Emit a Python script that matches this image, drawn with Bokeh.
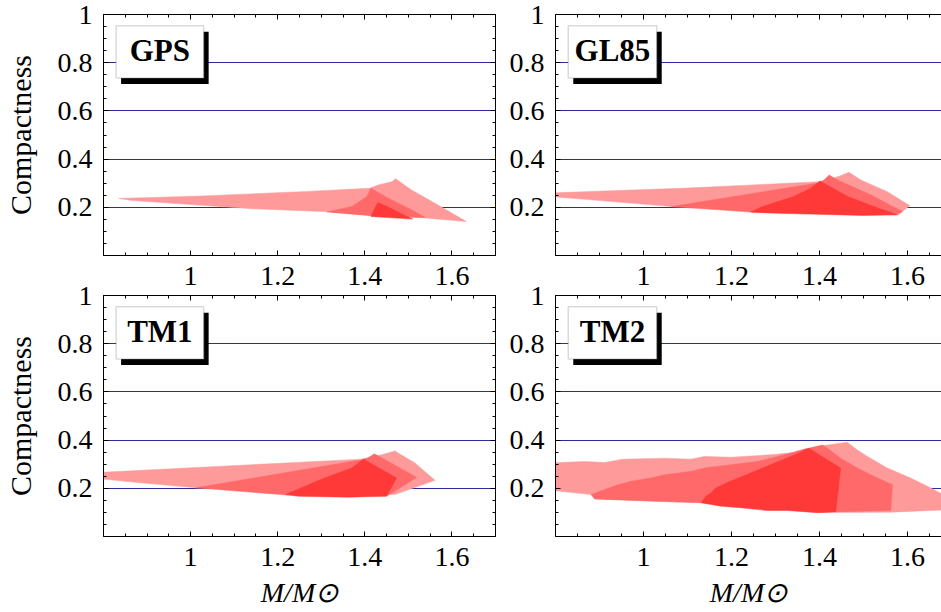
from bokeh.plotting import figure
from bokeh.models import (LinearAxis, FixedTicker, BoxAnnotation, Label, Range1d, Grid,
                          CustomLabelingPolicy)
from bokeh.layouts import column, row
from bokeh.embed import file_html
from bokeh.resources import INLINE

# ---------------- data ----------------
X_MAJOR = [1.0, 1.2, 1.4, 1.6]
X_MINOR = [0.8, 0.85, 0.9, 0.95, 1.0, 1.05, 1.1, 1.15, 1.2, 1.25, 1.3, 1.35,
           1.4, 1.45, 1.5, 1.55, 1.6, 1.65, 1.7]
Y_MAJOR = [0.2, 0.4, 0.6, 0.8, 1.0]
Y_MINOR = [0.0, 0.05, 0.1, 0.15, 0.2, 0.25, 0.3, 0.35, 0.4, 0.45, 0.5, 0.55,
           0.6, 0.65, 0.7, 0.75, 0.8, 0.85, 0.9, 0.95, 1.0]
GRID_LEVELS = [0.2, 0.4, 0.6, 0.8]
PANEL_NAMES = ["GPS", "GL85", "TM1", "TM2"]
Y_TITLE = "Compactness"
X_TITLE = "M/M\u2299"

gps_light_x = [0.835, 1.027, 1.256, 1.411, 1.431, 1.462, 1.471, 1.507, 1.561, 1.633, 1.537, 1.416, 1.313, 1.142, 0.867]
gps_light_y = [0.237, 0.247, 0.265, 0.279, 0.293, 0.306, 0.318, 0.272, 0.217, 0.141, 0.156, 0.166, 0.182, 0.194, 0.228]
gps_mid_x = [1.313, 1.370, 1.405, 1.414, 1.454, 1.507, 1.538, 1.416]
gps_mid_y = [0.181, 0.203, 0.245, 0.279, 0.238, 0.190, 0.158, 0.165]
gps_dark_x = [1.430, 1.421, 1.414, 1.510, 1.485, 1.454]
gps_dark_y = [0.220, 0.190, 0.162, 0.151, 0.172, 0.201]

gl85_light_x = [0.78, 1.100, 1.400, 1.429, 1.448, 1.467, 1.494, 1.554, 1.605, 1.580, 1.063, 0.881, 0.78]
gl85_light_y = [0.259, 0.280, 0.306, 0.320, 0.331, 0.345, 0.313, 0.265, 0.207, 0.169, 0.203, 0.231, 0.246]
gl85_mid_x = [1.063, 1.398, 1.410, 1.422, 1.441, 1.516, 1.588, 1.573, 1.471, 1.244]
gl85_mid_y = [0.203, 0.301, 0.313, 0.334, 0.313, 0.252, 0.183, 0.169, 0.171, 0.180]
gl85_dark_x = [1.244, 1.266, 1.342, 1.380, 1.401, 1.464, 1.524, 1.577, 1.500, 1.290]
gl85_dark_y = [0.180, 0.200, 0.245, 0.279, 0.309, 0.245, 0.203, 0.169, 0.166, 0.176]

tm1_light_x = [0.78, 1.393, 1.439, 1.469, 1.515, 1.561, 1.469, 1.250, 1.012, 0.867, 0.78]
tm1_light_y = [0.265, 0.321, 0.339, 0.355, 0.305, 0.233, 0.174, 0.185, 0.202, 0.226, 0.242]
tm1_mid_x = [1.012, 1.393, 1.407, 1.422, 1.470, 1.519, 1.450, 1.222]
tm1_mid_y = [0.202, 0.318, 0.326, 0.343, 0.295, 0.245, 0.167, 0.172]
tm1_dark_x = [1.218, 1.302, 1.370, 1.397, 1.473, 1.450, 1.363, 1.248]
tm1_dark_y = [0.174, 0.239, 0.284, 0.321, 0.243, 0.168, 0.163, 0.167]

tm2_light_x = [0.78, 0.866, 0.912, 0.953, 1.048, 1.108, 1.138, 1.199, 1.290, 1.358, 1.380, 1.418, 1.463,
               1.486, 1.509, 1.554, 1.607, 1.652, 1.695, 1.695, 1.668, 1.562, 1.403, 1.131, 0.889, 0.881, 0.78]
tm2_light_y = [0.305, 0.311, 0.307, 0.321, 0.325, 0.321, 0.332, 0.329, 0.339, 0.352, 0.366, 0.380, 0.391,
               0.359, 0.332, 0.284, 0.243, 0.202, 0.160, 0.112, 0.109, 0.101, 0.100, 0.141, 0.156, 0.174, 0.194]
tm2_mid_x = [0.889, 0.881, 0.942, 0.972, 1.017, 1.048, 1.108, 1.138, 1.199, 1.259, 1.290, 1.335, 1.358,
             1.407, 1.418, 1.448, 1.486, 1.524, 1.566, 1.562, 1.437, 1.131, 1.010]
tm2_mid_y = [0.156, 0.174, 0.215, 0.229, 0.243, 0.256, 0.270, 0.284, 0.298, 0.311, 0.325, 0.346, 0.359,
             0.380, 0.366, 0.325, 0.284, 0.249, 0.215, 0.108, 0.103, 0.140, 0.147]
tm2_dark_x = [1.131, 1.142, 1.153, 1.165, 1.176, 1.188, 1.358, 1.365, 1.371, 1.376, 1.381, 1.448, 1.437,
              1.396, 1.327, 1.282, 1.222, 1.176]
tm2_dark_y = [0.140, 0.167, 0.181, 0.202, 0.212, 0.222, 0.350, 0.359, 0.363, 0.366, 0.360, 0.284, 0.103,
              0.099, 0.108, 0.108, 0.119, 0.126]

POLYS = {
    "GPS": [(gps_light_x, gps_light_y), (gps_mid_x, gps_mid_y), (gps_dark_x, gps_dark_y)],
    "GL85": [(gl85_light_x, gl85_light_y), (gl85_mid_x, gl85_mid_y), (gl85_dark_x, gl85_dark_y)],
    "TM1": [(tm1_light_x, tm1_light_y), (tm1_mid_x, tm1_mid_y), (tm1_dark_x, tm1_dark_y)],
    "TM2": [(tm2_light_x, tm2_light_y), (tm2_mid_x, tm2_mid_y), (tm2_dark_x, tm2_dark_y)],
}
FILLS = ["#ff9a9a", "#ff6969", "#ff3838"]

FONT = "Liberation Serif"
GRID_COLOR = "#2c2c9c"
TICK_FONT_SIZE = "28px"


def style_axis(ax, show_labels, standoff=4):
    ax.axis_line_color = "black"
    ax.axis_line_width = 1
    ax.major_tick_in = 5
    ax.major_tick_out = 0
    ax.minor_tick_in = 3
    ax.minor_tick_out = 0
    ax.major_tick_line_color = "black"
    ax.minor_tick_line_color = "black"
    ax.major_label_text_font = FONT
    ax.major_label_text_color = "black"
    if show_labels:
        ax.major_label_text_font_size = TICK_FONT_SIZE
        ax.major_label_standoff = standoff
    else:
        ax.major_label_policy = CustomLabelingPolicy(code="return []")
        ax.major_label_text_font_size = "0px"
        ax.major_label_standoff = 0


def make_panel(name, left, top):
    width = 500 if left else 441
    height = 257 if top else 355
    x_end = 1.7 if left else 0.8 + 386 / 440.0
    p = figure(width=width, height=height, output_backend="svg", toolbar_location=None,
               x_range=Range1d(0.8, x_end), y_range=Range1d(0.0, 1.0),
               x_axis_type=None, y_axis_type=None,
               min_border_left=100 if left else 55,
               min_border_right=5 if left else 0,
               min_border_top=14 if top else 38,
               min_border_bottom=2 if top else 76)
    p.outline_line_color = None
    p.background_fill_color = "white"
    p.border_fill_color = "white"

    xt = FixedTicker(ticks=X_MAJOR, minor_ticks=X_MINOR)
    yt = FixedTicker(ticks=Y_MAJOR, minor_ticks=Y_MINOR)

    # bottom edge: labelled only on the lower row
    below = LinearAxis(ticker=xt)
    style_axis(below, not top, standoff=11)
    below.major_label_overrides = {1.0: "1"}
    if not top:
        below.axis_label = X_TITLE
        below.axis_label_text_font = FONT
        below.axis_label_text_font_style = "italic"
        below.axis_label_text_font_size = "28px"
        below.axis_label_text_color = "black"
        below.axis_label_standoff = 8
    p.add_layout(below, "below")

    # top edge: on the lower row it carries the upper panel's x labels (same range)
    above = LinearAxis(ticker=xt)
    style_axis(above, not top, standoff=11)
    above.major_label_overrides = {1.0: "1"}
    p.add_layout(above, "above")

    lefta = LinearAxis(ticker=yt)
    style_axis(lefta, True, standoff=11)
    lefta.major_label_overrides = {1.0: "1"}
    if left:
        lefta.axis_label = Y_TITLE
        lefta.axis_label_text_font = FONT
        lefta.axis_label_text_font_style = "normal"
        lefta.axis_label_text_font_size = "30px"
        lefta.axis_label_text_color = "black"
        lefta.axis_label_standoff = 18
    p.add_layout(lefta, "left")

    if left:
        righta = LinearAxis(ticker=yt)
        style_axis(righta, False)
        p.add_layout(righta, "right")

    p.add_layout(Grid(dimension=1, ticker=FixedTicker(ticks=GRID_LEVELS),
                      grid_line_color=GRID_COLOR, grid_line_width=1.1))

    for (xs, ys), col in zip(POLYS[name], FILLS):
        p.patch(xs, ys, fill_color=col, fill_alpha=1.0, line_color=col, line_width=0.5)

    bl, br, bb, bt = 0.829, 1.030, 0.737, 0.953
    dx, dy = 0.0114, 0.025
    p.add_layout(BoxAnnotation(left=bl + dx, right=br + dx, bottom=bb - dy, top=bt - dy,
                               fill_color="black", fill_alpha=1.0, line_color=None))
    p.add_layout(BoxAnnotation(left=bl, right=br, bottom=bb, top=bt,
                               fill_color="white", fill_alpha=1.0,
                               line_color="#858585", line_width=1.5))
    p.add_layout(Label(x=(bl + br) / 2, y=(bb + bt) / 2 + 0.005, text=name,
                       text_align="center", text_baseline="middle",
                       text_font=FONT, text_font_style="bold",
                       text_font_size="31px", text_color="black"))
    return p


p1 = make_panel("GPS", True, True)
p2 = make_panel("GL85", False, True)
p3 = make_panel("TM1", True, False)
p4 = make_panel("TM2", False, False)

layout = column(row(p1, p2, spacing=0), row(p3, p4, spacing=0), spacing=0)

with open("out.html", "w") as f:
    f.write(file_html(layout, INLINE))
